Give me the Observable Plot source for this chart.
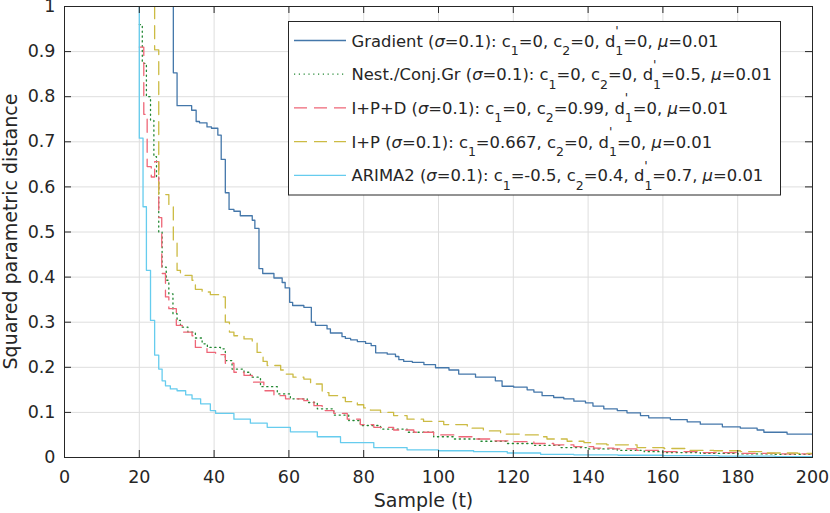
<!DOCTYPE html>
<html><head><meta charset="utf-8">
<script src="https://cdn.jsdelivr.net/npm/d3@7"></script>
<script src="https://cdn.jsdelivr.net/npm/@observablehq/plot@0.6"></script>
<style>html,body{margin:0;padding:0;background:#fff;} #chart{width:830px;height:513px;}</style>
</head><body><div id="chart"></div>
<script>
const xTicks = [0, 20, 40, 60, 80, 100, 120, 140, 160, 180, 200];
const yTicks = [0, 0.1, 0.2, 0.3, 0.4, 0.5, 0.6, 0.7, 0.8, 0.9, 1];
const xLabel = "Sample (t)";
const yLabel = "Squared parametric distance";

const seriesNames = ["Gradient", "Nest./Conj.Gr", "I+P+D", "I+P", "ARIMA2"];
const seriesLabels = [
  "Gradient (σ=0.1): c_1=0, c_2=0, d'_1=0, μ=0.01",
  "Nest./Conj.Gr (σ=0.1): c_1=0, c_2=0, d'_1=0.5, μ=0.01",
  "I+P+D (σ=0.1): c_1=0, c_2=0.99, d'_1=0, μ=0.01",
  "I+P (σ=0.1): c_1=0.667, c_2=0, d'_1=0, μ=0.01",
  "ARIMA2 (σ=0.1): c_1=-0.5, c_2=0.4, d'_1=0.7, μ=0.01"
];
const seriesColors = ["#4477AA", "#228833", "#EE6677", "#CCBB44", "#66CCEE"];
const seriesDash = [null, "1.2,3.6", "13,7", "13,7", null];

// [sample t, squared parametric distance] (step curves)
const gradient = [[20,1.5],[29.1,0.853],[30.1,0.78],[34,0.77],[35.2,0.745],[36.1,0.742],[38.1,0.733],[39.3,0.73],[41,0.715],[41.9,0.661],[43,0.587],[44,0.55],[45.3,0.546],[47,0.536],[50.2,0.526],[50.9,0.508],[52,0.419],[53,0.408],[56,0.398],[58.2,0.388],[59,0.376],[60.2,0.344],[61,0.337],[64,0.333],[66,0.30],[67.1,0.293],[70.2,0.285],[71.1,0.276],[74.2,0.268],[75.1,0.264],[76.5,0.261],[78.3,0.257],[80.5,0.253],[82,0.248],[83.2,0.232],[86.3,0.229],[88.5,0.224],[89.4,0.217],[90.7,0.213],[93,0.211],[96.1,0.206],[99.2,0.199],[102.8,0.194],[105.4,0.185],[109.9,0.178],[115.2,0.17],[117,0.158],[120.1,0.156],[123.7,0.15],[125.5,0.145],[127.7,0.137],[130.8,0.133],[133.5,0.13],[136.2,0.125],[139.3,0.121],[141.3,0.114],[144.2,0.108],[147.8,0.104],[150.4,0.099],[154,0.093],[156.2,0.088],[162,0.084],[166.5,0.079],[170,0.074],[175.9,0.068],[180.7,0.065],[185.2,0.061],[187,0.056],[193.2,0.052],[200,0.05]];
const nesterov = [[20,0.96],[20.8,0.874],[21.9,0.8],[23,0.748],[23.9,0.667],[24.6,0.622],[25.2,0.5],[26.1,0.422],[27.2,0.393],[27.9,0.363],[29,0.319],[30.1,0.304],[31,0.289],[33,0.278],[35,0.265],[36.8,0.252],[38.2,0.244],[41.7,0.241],[43,0.215],[44.8,0.196],[48,0.189],[49.7,0.178],[52.4,0.157],[56.9,0.141],[60.4,0.13],[64.9,0.122],[67.6,0.108],[72,0.094],[76,0.082],[79.1,0.071],[84.5,0.063],[91.6,0.056],[98.7,0.046],[104.1,0.041],[111.2,0.036],[118.4,0.031],[125.5,0.027],[132.6,0.022],[139.8,0.019],[147.8,0.016],[155,0.013],[160,0.011],[170,0.009],[180,0.008],[190,0.007],[200,0.006]];
const ipd = [[20,0.91],[21.2,0.761],[22.1,0.645],[23.2,0.622],[24.1,0.656],[25.2,0.532],[26,0.408],[27,0.356],[27.9,0.33],[29.9,0.293],[31.5,0.278],[34.1,0.27],[35,0.244],[38.1,0.233],[40.4,0.228],[43,0.209],[45.3,0.189],[48,0.182],[50.2,0.167],[53.3,0.148],[56,0.137],[59.1,0.13],[64,0.126],[66.7,0.115],[68.9,0.104],[72,0.098],[75.6,0.085],[79.1,0.073],[82.7,0.067],[88,0.061],[93.4,0.056],[98.7,0.05],[104.1,0.046],[109.4,0.041],[114.8,0.037],[120.1,0.035],[125.5,0.031],[130.8,0.028],[136.2,0.024],[141.5,0.021],[146.9,0.019],[153,0.016],[160,0.013],[170,0.011],[180,0.009],[190,0.008],[200,0.007]];
const ip = [[20,1.5],[24.1,0.904],[25.2,0.583],[27.9,0.557],[29.1,0.481],[30.1,0.415],[31,0.404],[34.1,0.393],[35,0.373],[36.8,0.367],[39,0.361],[41.5,0.356],[43,0.30],[44.1,0.278],[45.3,0.27],[48,0.263],[50.2,0.256],[51.5,0.233],[53.1,0.213],[54.2,0.204],[57.8,0.194],[59.1,0.185],[61.1,0.178],[64,0.174],[65.8,0.163],[68.9,0.144],[70.7,0.137],[73.8,0.133],[75.1,0.124],[78.3,0.117],[80,0.11],[81.8,0.105],[84.5,0.1],[88,0.093],[91.6,0.085],[96,0.08],[101.4,0.073],[107.7,0.065],[112,0.059],[116.6,0.052],[121.9,0.05],[127.3,0.046],[129,0.041],[134.4,0.036],[138.9,0.033],[141.5,0.03],[145,0.028],[153.1,0.022],[160.3,0.02],[166.5,0.016],[173.6,0.015],[180.7,0.013],[187.9,0.01],[196,0.009],[200,0.008]];
const arima2 = [[19,2],[20,0.708],[21,0.556],[21.9,0.415],[23,0.304],[24.1,0.227],[25.2,0.196],[26.1,0.17],[27,0.159],[28.3,0.152],[30.1,0.148],[32.4,0.139],[34.1,0.13],[36.4,0.119],[39,0.104],[40.4,0.098],[45.3,0.085],[49.7,0.076],[54.2,0.067],[60.4,0.057],[67.6,0.046],[73.8,0.033],[82.7,0.022],[91.6,0.017],[100,0.015],[109.4,0.013],[118.4,0.01],[127.3,0.007],[136.2,0.006],[148,0.005],[160,0.004],[175,0.003],[190,0.002],[200,0.002]];

const seriesData = [gradient, nesterov, ipd, ip, arima2];

const W = 830, H = 513, mL = 64, mR = 18, mT = 6, mB = 56;
const pw = W - mL - mR, ph = H - mT - mB;
const ink = "#262626";
const fontFam = "DejaVu Sans";

const lineMarks = seriesData.map((arr, i) => Plot.line(arr.map(([t, v]) => ({t, v, s: seriesNames[i]})), {
  x: "t", y: "v", stroke: seriesColors[i], strokeWidth: 1.3,
  strokeDasharray: seriesDash[i] || undefined, curve: "step-after", clip: true
}));

const fmt = d => String(+d.toFixed(1));

const chart = Plot.plot({
  width: W, height: H,
  marginLeft: mL, marginRight: mR, marginTop: mT, marginBottom: mB,
  x: {domain: [0, 200]},
  y: {domain: [0, 1]},
  style: {fontFamily: fontFam, color: ink, background: "white"},
  marks: [
    Plot.gridX(xTicks, {x: d => d, stroke: "#dedede", strokeOpacity: 1}),
    Plot.gridY(yTicks, {y: d => d, stroke: "#dedede", strokeOpacity: 1}),
    ...lineMarks,
    Plot.tickX(xTicks, {x: d => d, insetTop: ph - 7, stroke: ink}),
    Plot.tickX(xTicks, {x: d => d, insetBottom: ph - 7, stroke: ink}),
    Plot.tickY(yTicks, {y: d => d, insetRight: pw - 7, stroke: ink}),
    Plot.tickY(yTicks, {y: d => d, insetLeft: pw - 7, stroke: ink}),
    Plot.axisX(xTicks, {tickSize: 0, tickPadding: 13, fontSize: 17.5, label: null, tickFormat: fmt, fill: ink}),
    Plot.axisY(yTicks, {tickSize: 0, tickPadding: 9, fontSize: 17.5, label: null, tickFormat: fmt, fill: ink}),
    Plot.frame({stroke: ink, strokeWidth: 1})
  ]
});
document.getElementById("chart").appendChild(chart);

const svg = d3.select(chart);
svg.append("text").attr("x", 423.5).attr("y", 506.5).attr("text-anchor", "middle")
  .attr("font-family", fontFam).attr("font-size", 19).attr("fill", ink).text(xLabel);
svg.append("text").attr("transform", "translate(17,231.5) rotate(-90)").attr("text-anchor", "middle")
  .attr("font-family", fontFam).attr("font-size", 19).attr("fill", ink).text(yLabel);

// legend
const lg = svg.append("g").attr("text-anchor", "start");
lg.append("rect").attr("x", 288.5).attr("y", 21.5).attr("width", 492).attr("height", 173.5)
  .attr("fill", "white").attr("stroke", ink).attr("stroke-width", 1);

function parseLabel(label) {
  const segs = [];
  for (let i = 0; i < label.length; i++) {
    const c = label[i];
    if (c === "_") { segs.push({t: label[i + 1], k: "sub"}); i++; }
    else if (c === "'" && label[i + 1] === "_") { segs.push({t: "'", k: "sup"}); segs.push({t: label[i + 2], k: "subU"}); i += 2; }
    else if (c === "σ" || c === "μ") segs.push({t: c, k: "it"});
    else if (segs.length && segs[segs.length - 1].k === "n") segs[segs.length - 1].t += c;
    else segs.push({t: c, k: "n"});
  }
  return segs;
}

const fs = 16.4, fsSub = 12.5;
seriesLabels.forEach((lab, i) => {
  const yy = 40.5 + i * 33.7;
  const ln = lg.append("line").attr("x1", 294).attr("x2", 346).attr("y1", yy).attr("y2", yy)
    .attr("stroke", seriesColors[i]).attr("stroke-width", 1.3).attr("fill", "none");
  if (seriesDash[i]) ln.attr("stroke-dasharray", seriesDash[i]);
  const tx = lg.append("text").attr("x", 351.5).attr("y", yy + 6).attr("text-anchor", "start")
    .attr("font-family", fontFam).attr("font-size", fs).attr("fill", ink);
  let cur = 0;
  for (const s of parseLabel(lab)) {
    let off = 0, size = fs, dx = 0, style = null;
    if (s.k === "sub") { off = 8.5; size = fsSub; }
    else if (s.k === "sup") { off = -11.5; size = fsSub; }
    else if (s.k === "subU") { off = 8.5; size = fsSub; dx = -3.4; }
    else if (s.k === "it") { style = "italic"; }
    const ts = tx.append("tspan").attr("dy", off - cur).attr("font-size", size).text(s.t);
    if (dx) ts.attr("dx", dx);
    if (style) ts.attr("font-style", style);
    cur = off;
  }
});
</script>
</body></html>
